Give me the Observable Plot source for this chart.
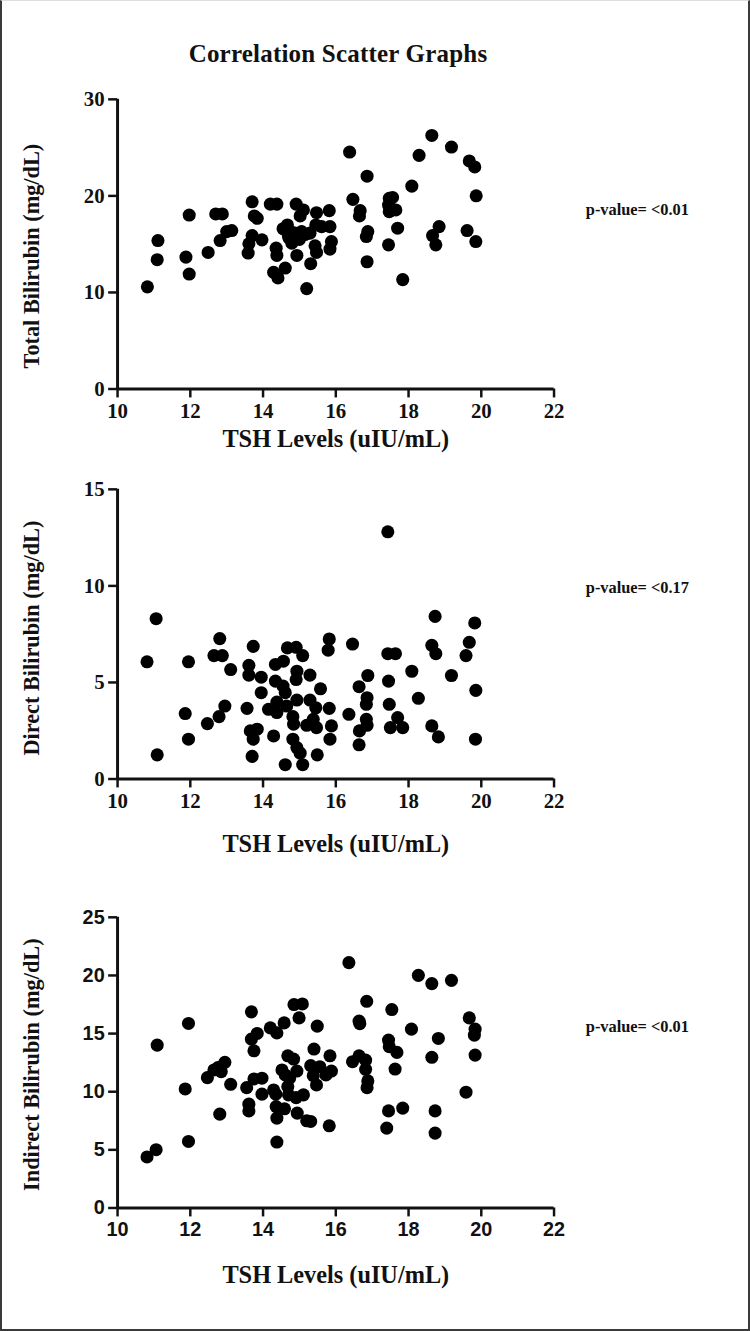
<!DOCTYPE html>
<html>
<head>
<meta charset="utf-8">
<script src="https://cdn.jsdelivr.net/npm/d3@7"></script>
<script src="https://cdn.jsdelivr.net/npm/@observablehq/plot@0.6"></script>
<style>
  html, body { margin: 0; padding: 0; background: #fff; }
  #page { position: relative; width: 750px; height: 1331px; box-sizing: border-box; border: 2px solid #3a3a3a; border-top: 1px solid #ddd; background: #fff; overflow: hidden; }
  #title { position: absolute; left: 0; width: 672px; top: 39px; text-align: center; font-family: "Liberation Serif", serif; font-weight: bold; font-size: 25px; letter-spacing: 0.2px; color: #111; }
</style>
</head>
<body>
<div id="page">
  <div id="title">Correlation Scatter Graphs</div>
</div>
<script>
// ---------- data ----------
const xTicks = [10, 12, 14, 16, 18, 20, 22];
const xLabel = "TSH Levels (uIU/mL)";

const tshTotal = [10.82,11.11,11.09,11.97,11.88,11.97,12.49,12.70,12.88,12.82,13.00,13.14,13.70,13.76,13.84,13.70,13.61,13.59,13.97,14.20,14.38,14.36,14.38,14.29,14.41,14.61,14.67,14.61,14.70,14.79,14.91,15.02,15.11,14.93,14.88,15.06,15.20,15.47,15.45,15.61,15.43,15.47,15.31,15.82,15.84,15.88,15.84,15.29,14.55,14.80,14.72,15.00,15.15,16.38,16.86,16.47,16.67,16.65,16.88,16.84,16.86,17.47,17.56,17.45,17.47,17.65,17.70,17.45,17.84,18.09,18.29,18.64,19.18,19.67,19.82,19.86,18.84,18.66,18.75,19.61,19.85];
const totalBili = [10.58,15.38,13.39,18.02,13.66,11.91,14.14,18.13,18.13,15.38,16.30,16.41,19.39,17.92,17.68,15.89,15.04,14.08,15.45,19.15,19.15,14.59,13.83,12.08,11.50,12.53,16.99,16.48,15.79,15.11,19.15,17.92,18.54,13.83,16.14,16.30,10.40,18.26,16.99,16.82,14.83,14.14,12.98,18.47,16.82,15.27,14.49,16.14,16.60,16.20,15.60,15.50,16.00,24.54,22.04,19.64,18.47,17.92,16.30,15.79,13.18,19.74,19.84,19.05,18.36,18.54,16.65,14.93,11.33,21.01,24.20,26.26,25.06,23.62,23.00,20.01,16.82,15.89,14.93,16.41,15.27];
const totalTicks = [0, 10, 20, 30];

const tshDirect = [10.81,11.06,11.09,11.95,11.86,11.95,12.47,12.81,12.65,12.88,13.11,12.95,12.79,13.73,13.61,13.61,13.95,13.95,13.56,13.65,13.84,13.73,13.70,14.29,14.15,14.38,14.34,14.56,14.34,14.55,14.61,14.38,14.65,14.67,14.91,15.09,14.93,14.91,14.93,14.82,14.84,14.82,14.93,15.02,14.61,15.09,15.29,15.58,15.29,15.45,15.38,15.20,15.47,15.49,15.82,15.79,15.82,15.88,15.84,17.43,16.46,16.88,16.64,16.86,16.84,16.36,16.84,16.86,16.65,16.64,17.43,17.64,17.45,17.47,17.70,17.50,17.84,18.09,18.27,18.64,18.82,18.73,18.64,18.75,19.18,19.82,19.67,19.58,19.85,19.84];
const directBili = [6.07,8.30,1.25,6.07,3.39,2.06,2.87,7.27,6.39,6.39,5.67,3.78,3.23,6.87,5.89,5.38,5.27,4.47,3.66,2.49,2.58,2.06,1.17,2.23,3.61,3.44,5.93,6.10,5.07,4.81,4.47,3.98,3.78,6.79,6.82,6.39,5.58,5.15,4.09,3.23,2.84,2.06,1.63,1.34,0.74,0.74,5.38,4.67,4.09,3.69,3.09,2.78,2.66,1.25,7.25,6.67,3.66,2.75,2.06,12.80,6.99,5.36,4.78,4.21,3.87,3.35,3.09,2.78,2.49,1.77,6.49,6.49,5.07,3.87,3.18,2.66,2.66,5.58,4.18,2.75,2.18,8.42,6.92,6.49,5.36,8.08,7.08,6.39,4.59,2.06];
const directTicks = [0, 5, 10, 15];

const tshIndirect = [10.81,11.06,11.09,11.95,11.86,11.95,12.47,12.65,12.76,12.95,12.85,13.11,12.81,13.68,13.84,13.68,13.75,13.55,13.75,13.97,13.97,13.61,13.61,14.20,14.38,14.58,14.29,14.35,14.36,14.38,14.59,14.38,14.52,14.68,14.84,14.61,14.73,14.68,14.70,14.93,14.91,15.11,14.94,15.20,15.31,14.85,15.08,14.99,15.49,15.40,15.31,15.47,15.38,15.84,15.88,15.73,15.82,15.56,16.36,16.85,16.64,16.66,16.46,16.64,16.82,16.82,16.88,16.86,17.54,17.45,17.47,17.68,17.63,17.45,17.84,17.40,18.08,18.27,18.64,19.18,18.82,18.64,18.73,18.73,19.67,19.83,19.81,19.83,19.58];
const indirectBili = [4.39,5.01,14.01,15.87,10.24,5.72,11.21,11.87,12.07,12.53,11.73,10.64,8.07,16.87,15.01,14.52,13.52,10.35,11.10,11.16,9.79,8.93,8.35,15.49,15.06,15.92,10.15,9.79,8.72,7.73,8.53,5.67,11.87,13.09,12.81,11.44,11.16,10.44,9.73,11.78,9.49,9.73,8.16,7.50,7.44,17.50,17.55,16.35,15.64,13.67,12.24,10.58,11.38,13.09,11.78,11.44,7.07,12.15,21.10,17.78,16.07,15.85,12.58,13.09,12.72,11.93,10.93,10.35,17.07,14.44,13.87,13.38,11.95,8.35,8.59,6.87,15.38,20.01,19.30,19.58,14.58,12.96,8.35,6.44,16.35,15.38,14.87,13.15,9.96];
const indirectTicks = [0, 5, 10, 15, 20, 25];

const pValues = ["p-value= <0.01", "p-value= <0.17", "p-value= <0.01"];
const yLabels = ["Total Bilirubin (mg/dL)", "Direct Bilirubin (mg/dL)", "Indirect Bilirubin (mg/dL)"];

// ---------- drawing ----------
const serif = "'Liberation Serif', 'Times New Roman', serif";
const sans = "'Liberation Sans Narrow', 'Liberation Sans', Arial, sans-serif";

function panel({xs, ys, yTicks, yLabel, pValue, top, height, marginTop, marginBottom, tickFont, tickSizeFont, pDy, yLabDy, xLabDy}) {
  const ymax = yTicks[yTicks.length - 1];
  const data = xs.map((x, i) => ({x, y: ys[i]}));
  const chart = Plot.plot({
    width: 752,
    height,
    marginLeft: 118,
    marginRight: 752 - 558,
    marginTop,
    marginBottom,
    style: {fontFamily: serif, fontWeight: "bold", color: "#111", background: "transparent", overflow: "visible"},
    x: {domain: [10, 22]},
    y: {domain: [0, ymax]},
    marks: [
      Plot.axisX({ticks: xTicks, tickSize: 9, tickPadding: 5, strokeWidth: 2.5, fontSize: tickSizeFont, fontFamily: tickFont, fontWeight: "bold", label: null}),
      Plot.axisY({ticks: yTicks, tickSize: 9, tickPadding: 4, strokeWidth: 2.5, fontSize: tickSizeFont, fontFamily: tickFont, fontWeight: "bold", label: null}),
      Plot.ruleX([10], {y1: 0, y2: ymax, strokeWidth: 3, stroke: "#111"}),
      Plot.ruleY([0], {x1: 10, x2: 22, strokeWidth: 3, stroke: "#111"}),
      Plot.dot(data, {x: "x", y: "y", r: 6.6, fill: "#000", stroke: "none"}),
      Plot.text([yLabel], {frameAnchor: "left", textAnchor: "middle", lineAnchor: "middle", dx: -86, dy: yLabDy, rotate: -90, fontSize: 22.5, fontWeight: "bold", fontFamily: serif, fill: "#111"}),
      Plot.text([xLabel], {frameAnchor: "bottom", textAnchor: "middle", lineAnchor: "middle", dy: xLabDy, fontSize: 24.5, fontWeight: "bold", fontFamily: serif, fill: "#111"}),
      Plot.text([pValue], {frameAnchor: "right", dx: 32, dy: pDy, textAnchor: "start", lineAnchor: "middle", fontSize: 16.5, fontWeight: "bold", fontFamily: serif, fill: "#111"})
    ]
  });
  chart.style.position = "absolute";
  chart.style.top = top + "px";
  chart.style.left = "-2px";
  document.getElementById("page").appendChild(chart);
}

panel({xs: tshTotal, ys: totalBili, yTicks: totalTicks, yLabel: yLabels[0], pValue: pValues[0],
  top: 79, height: 400, marginTop: 19, marginBottom: 89, tickFont: serif, tickSizeFont: 21, pDy: -35, yLabDy: 12, xLabDy: 51});
panel({xs: tshDirect, ys: directBili, yTicks: directTicks, yLabel: yLabels[1], pValue: pValues[1],
  top: 469, height: 400, marginTop: 19, marginBottom: 89, tickFont: serif, tickSizeFont: 21, pDy: -47, yLabDy: 4, xLabDy: 66});
panel({xs: tshIndirect, ys: indirectBili, yTicks: indirectTicks, yLabel: yLabels[2], pValue: pValues[2],
  top: 894, height: 420, marginTop: 22, marginBottom: 105, tickFont: sans, tickSizeFont: 20, pDy: -36, yLabDy: 2, xLabDy: 68});
</script>
</body>
</html>
